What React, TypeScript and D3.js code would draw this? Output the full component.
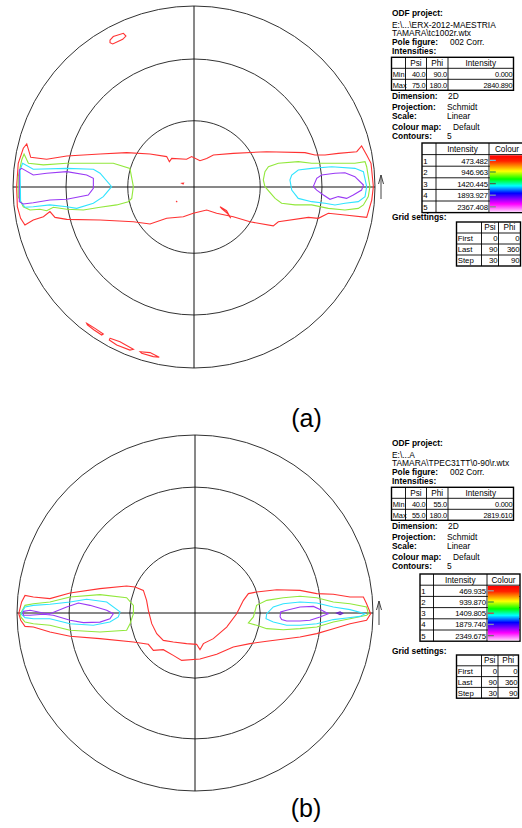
import React from "react";
import * as d3 from "d3";

type Pt = [number, number];

// Psi rings of the pole figure grid (Schmidt / equal-area projection)
const psiRings = [30, 60, 90];
const figureLabels = ["(a)", "(b)"];

// contour polygons, [x, y] in % of the pole figure radius (y up)
// (a) tc1002r
const a1Band: Pt[] = [[-92.4,23.8],[-90.2,16.4],[-81.4,15.3],[-70.3,17.1],[-51.9,18.2],[-37.2,19.0],[-24.3,18.2],[-15.1,16.8],[-13.6,14.0],[-12.3,15.8],[-4.1,15.3],[-1.3,16.8],[3.3,14.5],[7.0,15.8],[10.7,17.7],[21.7,18.6],[40.1,19.5],[61.3,19.0],[66.8,17.7],[72.4,17.7],[79.7,18.6],[89.9,19.5],[92.6,22.7],[95.4,17.7],[97.8,13.1],[99.1,0.2],[98.2,-7.2],[95.4,-16.8],[83.4,-15.5],[74.2,-14.5],[68.7,-17.3],[63.2,-16.8],[46.6,-19.2],[43.8,-21.5],[30.9,-19.2],[21.7,-16.4],[12.5,-14.5],[7.0,-12.7],[-0.4,-14.5],[-5.9,-16.4],[-15.1,-17.3],[-24.3,-20.4],[-33.5,-19.2],[-51.9,-18.2],[-70.3,-17.9],[-76.8,-16.8],[-79.6,-13.6],[-83.2,-16.4],[-88.8,-18.2],[-93.4,-21.0],[-95.8,-17.3],[-97.6,-10.9],[-98.0,0.2],[-97.1,13.1],[-94.3,21.4]];
const a1Sliver: Pt[] = [[14.4,-10.9],[18.0,-13.1],[20.3,-17.3],[18.4,-14.5],[15.3,-12.0]];
const a1Dot1: Pt[] = [[-6.6,2.0],[-5.8,2.1],[-6.0,1.7]];
const a1Dot2: Pt[] = [[-9.9,-7.8],[-9.3,-8.4],[-9.6,-8.0]];
const a1IslandN: Pt[] = [[-46.4,81.2],[-44.6,83.1],[-39.0,84.9],[-37.6,83.4],[-39.4,81.6],[-44.9,79.0],[-46.4,79.7]];
const a1IslandS1: Pt[] = [[-59.3,-75.3],[-54.7,-78.1],[-50.1,-81.2],[-51.0,-81.8],[-55.2,-79.0],[-58.9,-76.2]];
const a1IslandS2: Pt[] = [[-46.4,-83.6],[-40.9,-85.5],[-33.5,-89.7],[-35.4,-90.1],[-42.7,-87.3],[-46.8,-84.5]];
const a1IslandS3: Pt[] = [[-29.8,-91.0],[-24.3,-91.5],[-19.2,-94.1],[-22.5,-93.7],[-28.9,-91.9]];
const a2Left: Pt[] = [[-93.9,18.2],[-91.5,13.1],[-83.2,12.2],[-70.3,13.1],[-59.3,13.1],[-44.6,13.1],[-35.4,10.3],[-33.5,0.2],[-34.4,-6.3],[-36.3,-8.1],[-42.7,-9.9],[-51.9,-11.2],[-61.1,-12.7],[-70.3,-12.3],[-77.7,-11.2],[-81.4,-13.1],[-85.1,-12.3],[-90.6,-12.7],[-94.3,-10.9],[-97.1,-5.3],[-97.1,5.7],[-95.2,14.9]];
const a2Right: Pt[] = [[38.3,3.9],[39.2,8.5],[41.1,11.2],[46.6,13.1],[57.6,14.0],[65.0,13.1],[76.1,13.1],[88.9,13.1],[94.5,14.0],[95.4,11.2],[97.2,0.2],[96.3,-5.3],[93.6,-9.9],[90.8,-11.8],[83.4,-12.7],[74.2,-11.8],[65.0,-9.9],[55.8,-9.9],[48.4,-9.0],[44.8,-6.3],[39.2,0.2]];
const a3Left: Pt[] = [[-94.7,13.1],[-88.8,9.8],[-70.3,10.3],[-55.6,9.8],[-51.9,7.6],[-45.5,0.2],[-50.1,-5.3],[-55.6,-9.0],[-64.8,-11.8],[-70.3,-10.9],[-79.6,-9.9],[-88.8,-10.9],[-93.4,-11.2],[-95.8,-8.1],[-96.1,9.4]];
const a3Right: Pt[] = [[53.0,3.9],[54.0,6.6],[57.6,9.4],[65.0,10.3],[76.1,11.2],[88.9,10.3],[93.6,8.5],[95.4,0.2],[94.5,-5.3],[90.8,-8.1],[83.4,-9.0],[77.9,-9.9],[72.4,-9.0],[65.0,-8.1],[57.6,-6.3],[54.0,-1.7]];
const a4Left: Pt[] = [[-95.2,10.3],[-88.8,6.6],[-81.4,7.6],[-70.3,8.5],[-59.3,6.6],[-55.6,4.8],[-55.6,-0.7],[-58.4,-4.4],[-70.3,-6.8],[-79.6,-7.2],[-88.8,-8.7],[-94.3,-9.4],[-96.5,-8.1],[-96.5,9.4]];
const a4Right: Pt[] = [[65.9,0.2],[67.8,4.8],[70.5,6.6],[77.9,7.6],[83.4,7.9],[88.9,5.7],[93.6,1.1],[92.6,-1.7],[88.0,-4.4],[84.3,-6.3],[79.7,-5.3],[75.1,-6.8],[71.5,-4.4],[67.8,-1.7]];

// (b) TPEC31TT
const b1Band: Pt[] = [[-99.0,-0.4],[-97.4,6.2],[-95.5,9.9],[-90.8,9.0],[-81.5,8.1],[-70.2,11.2],[-53.4,13.7],[-38.4,15.2],[-33.7,14.6],[-29.0,12.7],[-27.2,7.1],[-26.2,1.5],[-24.3,-6.0],[-21.5,-11.6],[-17.8,-15.4],[-12.2,-16.3],[-4.7,-17.2],[0.9,-17.6],[2.8,-20.6],[4.7,-17.2],[10.3,-14.4],[17.8,-7.9],[23.4,-0.4],[27.2,7.1],[30.0,10.9],[34.6,11.8],[45.9,13.1],[59.0,12.7],[68.4,10.9],[77.7,10.5],[87.1,9.0],[94.6,9.0],[96.4,5.2],[98.7,-0.4],[96.4,-4.1],[87.1,-6.0],[77.7,-8.8],[68.4,-11.6],[59.0,-13.5],[40.3,-15.9],[30.9,-17.2],[21.5,-19.1],[12.2,-23.2],[2.8,-25.8],[-7.5,-26.6],[-12.2,-23.8],[-17.8,-20.6],[-23.4,-21.0],[-26.2,-17.6],[-34.6,-16.3],[-53.4,-14.4],[-70.2,-13.1],[-81.5,-10.7],[-90.8,-7.9],[-95.5,-7.5],[-97.9,-4.1]];
const b2Left: Pt[] = [[-98.0,-0.4],[-95.5,4.3],[-90.8,5.2],[-81.5,6.2],[-70.2,9.0],[-53.4,10.3],[-38.4,8.6],[-34.6,4.3],[-34.6,-0.4],[-36.5,-6.0],[-38.4,-9.7],[-53.4,-10.7],[-70.2,-9.7],[-81.5,-6.9],[-90.8,-6.0],[-95.5,-5.1],[-97.9,-2.2]];
const b2Right: Pt[] = [[30.0,-5.6],[32.8,-2.2],[34.6,4.3],[40.3,7.1],[49.6,8.6],[59.0,9.4],[68.4,8.6],[77.7,6.2],[87.1,5.2],[96.4,3.4],[97.4,-0.4],[96.4,-1.3],[87.1,-3.2],[77.7,-5.1],[68.4,-7.9],[59.0,-8.8],[49.6,-9.4],[40.3,-8.8],[34.6,-6.9]];
const b3Left: Pt[] = [[-97.8,-0.4],[-95.5,3.4],[-90.8,4.3],[-81.5,4.9],[-70.2,6.2],[-60.9,7.7],[-49.6,6.2],[-42.1,0.6],[-43.1,-2.2],[-47.8,-5.1],[-57.1,-6.9],[-70.2,-6.0],[-81.5,-3.2],[-90.8,-3.2],[-95.5,-2.6]];
const b3Right: Pt[] = [[39.9,-3.2],[40.3,-0.4],[44.0,3.4],[49.6,5.2],[59.0,6.2],[68.4,5.6],[77.7,3.4],[87.1,1.9],[95.5,-0.4],[92.7,-1.9],[85.2,-2.8],[77.7,-3.7],[68.4,-6.0],[59.0,-6.9],[51.5,-6.9],[44.0,-5.1]];
const b4Left: Pt[] = [[-96.4,0.9],[-92.7,1.5],[-85.2,0],[-81.5,-0.4],[-72.1,3.4],[-65.5,5.6],[-59.0,4.3],[-49.6,1.5],[-45.9,-0.4],[-47.8,-3.2],[-53.4,-5.1],[-62.7,-5.4],[-70.2,-4.1],[-79.6,-1.3],[-85.2,-0.7],[-92.7,-1.3],[-96.4,-1.3]];
const b4Right: Pt[] = [[47.8,-2.2],[48.1,0.6],[51.5,1.5],[59.0,3.4],[66.5,3.7],[71.2,1.5],[74.9,-0.4],[70.2,-2.2],[64.6,-4.1],[59.0,-4.5],[51.5,-4.5],[48.7,-3.7]];
const b5Dot: Pt[] = [[79.6,0],[81.5,0.6],[83.0,-0.2],[81.5,-0.9]];

const contoursA = [
  { level: 1, pts: a1Band }, { level: 1, pts: a1Sliver }, { level: 1, pts: a1Dot1 }, { level: 1, pts: a1Dot2 },
  { level: 1, pts: a1IslandN }, { level: 1, pts: a1IslandS1 }, { level: 1, pts: a1IslandS2 }, { level: 1, pts: a1IslandS3 },
  { level: 2, pts: a2Left }, { level: 2, pts: a2Right },
  { level: 3, pts: a3Left }, { level: 3, pts: a3Right },
  { level: 4, pts: a4Left }, { level: 4, pts: a4Right },
];
const contoursB = [
  { level: 1, pts: b1Band },
  { level: 2, pts: b2Left }, { level: 2, pts: b2Right },
  { level: 3, pts: b3Left }, { level: 3, pts: b3Right },
  { level: 4, pts: b4Left }, { level: 4, pts: b4Right },
  { level: 5, pts: b5Dot },
];

// side panel texts
const projectPathA = ["E:\\...\\ERX-2012-MAESTRIA", "TAMARA\\tc1002r.wtx"];
const projectPathB = ["E:\\...A", "TAMARA\\TPEC31TT\\0-90\\r.wtx"];
const intensityHeader = ["", "Psi", "Phi", "Intensity"];
const intensityRowsA = [["Min", "40.0", "90.0", "0.000"], ["Max", "75.0", "180.0", "2840.890"]];
const intensityRowsB = [["Min", "40.0", "55.0", "0.000"], ["Max", "55.0", "180.0", "2819.610"]];
const settingLabels = ["Dimension:", "Projection:", "Scale:", "Colour map:", "Contours:"];
const settingValues = ["2D", "Schmidt", "Linear", "Default", "5"];
const contourLevelsA = [473.482, 946.963, 1420.445, 1893.927, 2367.408];
const contourLevelsB = [469.935, 939.87, 1409.805, 1879.74, 2349.675];
const gridHeader = ["", "Psi", "Phi"];
const gridRows = [["First", "0", "0"], ["Last", "90", "360"], ["Step", "30", "90"]];

const FONT = "'Liberation Sans', Arial, Helvetica, sans-serif";
const levelColor = d3.scaleOrdinal<number, string>()
  .domain([1, 2, 3, 4, 5])
  .range(["#ff3232", "#92e83c", "#30e4ff", "#9a3af5", "#6a22c8"]);

function PoleFigure({ cx, cy, R, contours }: { cx: number; cy: number; R: number; contours: { level: number; pts: Pt[] }[] }) {
  const x = d3.scaleLinear().domain([-100, 100]).range([cx - R, cx + R]);
  const y = d3.scaleLinear().domain([-100, 100]).range([cy + R, cy - R]);
  // Schmidt: r ~ sqrt(1 - cos psi)
  const rad = d3.scaleSqrt().domain([0, 1]).range([0, R]);
  const line = d3.line<Pt>().x((d) => x(d[0])).y((d) => y(d[1])).curve(d3.curveLinearClosed);
  const ax = cx + R + 6;
  return (
    <g>
      {psiRings.map((p) => (
        <circle key={p} cx={cx} cy={cy} r={rad(1 - Math.cos((p * Math.PI) / 180))} fill="none" stroke="#333" strokeWidth={1} />
      ))}
      <line x1={cx - R} x2={cx + R} y1={cy} y2={cy} stroke="#111" strokeWidth={1} />
      <line x1={cx} x2={cx} y1={cy - R} y2={cy + R} stroke="#111" strokeWidth={1} />
      {contours.map((c, i) => (
        <path key={i} d={line(c.pts) || ""} fill="none" stroke={levelColor(c.level)} strokeWidth={1.1} />
      ))}
      <g stroke="#444" strokeWidth={1} fill="none">
        <line x1={ax} x2={ax} y1={cy + 12} y2={cy - 12} />
        <polyline points={`${ax - 2.5},${cy - 3} ${ax},${cy - 12} ${ax + 2.5},${cy - 3}`} />
      </g>
    </g>
  );
}

type Align = "start" | "middle" | "end";

function Table({ cols, top, rowH, cells, align, size = 7.6 }: { cols: number[]; top: number; rowH: number; cells: string[][]; align: Align[]; size?: number }) {
  const n = cells.length;
  const bottom = top + n * rowH;
  const left = cols[0];
  const right = cols[cols.length - 1];
  return (
    <g>
      <rect x={left} y={top} width={right - left} height={bottom - top} fill="white" stroke="#000" strokeWidth={1.4} />
      {cols.slice(1, -1).map((c, i) => (
        <line key={"v" + i} x1={c} x2={c} y1={top} y2={bottom} stroke="#000" strokeWidth={0.9} />
      ))}
      {d3.range(1, n).map((i) => (
        <line key={"h" + i} x1={left} x2={right} y1={top + i * rowH} y2={top + i * rowH} stroke="#000" strokeWidth={0.9} />
      ))}
      {cells.map((row, i) =>
        row.map((t, j) => {
          const a = i === 0 ? "middle" : align[j];
          const tx = a === "start" ? cols[j] + 1.2 : a === "end" ? cols[j + 1] - 1.2 : (cols[j] + cols[j + 1]) / 2;
          return (
            <text key={i + "-" + j} x={tx} y={top + (i + 1) * rowH - 2.6} textAnchor={a}
              fontSize={i === 0 ? 8.2 : size} letterSpacing={i > 0 && /^[0-9.]+$/.test(t) ? -0.25 : 0}>
              {t}
            </text>
          );
        })
      )}
    </g>
  );
}

function Panel({ id, dy, paths, intRows, levels, dashColors, ctCols, ctTop, ctRowH, gLabelY, gCols, gTop, gRowH }: {
  id: string; dy: number; paths: string[]; intRows: string[][]; levels: number[]; dashColors: string[];
  ctCols: number[]; ctTop: number; ctRowH: number; gLabelY: number; gCols: number[]; gTop: number; gRowH: number;
}) {
  const lx = 392;
  const valueX = [448, 447, 447, 453, 447];
  const settingY = [99.3, 109.5, 119.3, 129.8, 139.3];
  const ctCells = [["", "Intensity", "Colour"], ...levels.map((v, i) => [String(i + 1), v.toFixed(3), ""])];
  const barX = ctCols[2] + 0.8;
  const barTop = ctTop + ctRowH + 0.7;
  const barBottom = ctTop + ctCells.length * ctRowH - 0.7;
  return (
    <g fontSize={8.4} fill="#000">
      <defs>
        <linearGradient id={id} x1="0" y1="0" x2="0" y2="1">
          <stop offset="0" stopColor="#ff0000" />
          <stop offset="0.1" stopColor="#ff2000" />
          <stop offset="0.28" stopColor="#ffff00" />
          <stop offset="0.42" stopColor="#00ff00" />
          <stop offset="0.54" stopColor="#00ffff" />
          <stop offset="0.67" stopColor="#0000ff" />
          <stop offset="0.86" stopColor="#ff00ff" />
          <stop offset="1" stopColor="#ffd0ff" />
        </linearGradient>
      </defs>
      <text x={lx} y={dy + 15.5} fontWeight="bold">ODF project:</text>
      <text x={lx} y={dy + 28}>{paths[0]}</text>
      <text x={lx} y={dy + 36.4}>{paths[1]}</text>
      <text x={lx} y={dy + 45} fontWeight="bold">Pole figure:</text>
      <text x={450} y={dy + 45}>002 Corr.</text>
      <text x={lx} y={dy + 54} fontWeight="bold">Intensities:</text>
      <Table cols={[391.5, 405.5, 426.5, 448, 513.5]} top={dy + 57.3} rowH={11} cells={[intensityHeader, ...intRows]} align={["start", "end", "end", "end"]} size={7.4} />
      {settingLabels.map((s, i) => (
        <g key={s}>
          <text x={lx} y={dy + settingY[i]} fontWeight="bold">{s}</text>
          <text x={valueX[i]} y={dy + settingY[i]}>{settingValues[i]}</text>
        </g>
      ))}
      <Table cols={ctCols} top={ctTop} rowH={ctRowH} cells={ctCells} align={["start", "end", "start"]} size={7.8} />
      <rect x={barX} y={barTop} width={ctCols[3] - barX - 0.8} height={barBottom - barTop} fill={`url(#${id})`} />
      {levels.map((_, i) => (
        <line key={i} x1={barX} x2={barX + 6} y1={ctTop + (i + 1.5) * ctRowH} y2={ctTop + (i + 1.5) * ctRowH} stroke={dashColors[i]} strokeWidth={1.3} />
      ))}
      <text x={lx} y={gLabelY} fontWeight="bold">Grid settings:</text>
      <Table cols={gCols} top={gTop} rowH={gRowH} cells={[gridHeader, ...gridRows]} align={["start", "end", "end"]} size={7.8} />
    </g>
  );
}

export default function App() {
  return (
    <svg width={522} height={828} style={{ position: "absolute", left: 0, top: 0, background: "#fff" }} fontFamily={FONT}>
      <rect x={0} y={0} width={522} height={828} fill="#fff" />
      <PoleFigure cx={194} cy={187} R={181} contours={contoursA} />
      <PoleFigure cx={195} cy={613} R={178} contours={contoursB} />
      <text x={306.5} y={427} fontSize={25} textAnchor="middle">{figureLabels[0]}</text>
      <text x={306} y={816.5} fontSize={25} textAnchor="middle">{figureLabels[1]}</text>
      <Panel id="cmapA" dy={0} paths={projectPathA} intRows={intensityRowsA} levels={contourLevelsA}
        dashColors={["#70b8e0", "#3c9a3c", "#4a6a4a", "#7d8fb5", "#8a8a8a"]}
        ctCols={[422, 436, 489, 525]} ctTop={143} ctRowH={11.6}
        gLabelY={220} gCols={[456.5, 481.5, 498.5, 520.5]} gTop={222} gRowH={11} />
      <Panel id="cmapB" dy={430} paths={projectPathB} intRows={intensityRowsB} levels={contourLevelsB}
        dashColors={["#a0a0a0", "#3c9a3c", "#d04040", "#7d8fb5", "#707070"]}
        ctCols={[420, 433.5, 487, 520]} ctTop={574} ctRowH={11.2}
        gLabelY={653.5} gCols={[456.5, 481.5, 498, 518.5]} gTop={655} gRowH={10.8} />
    </svg>
  );
}
